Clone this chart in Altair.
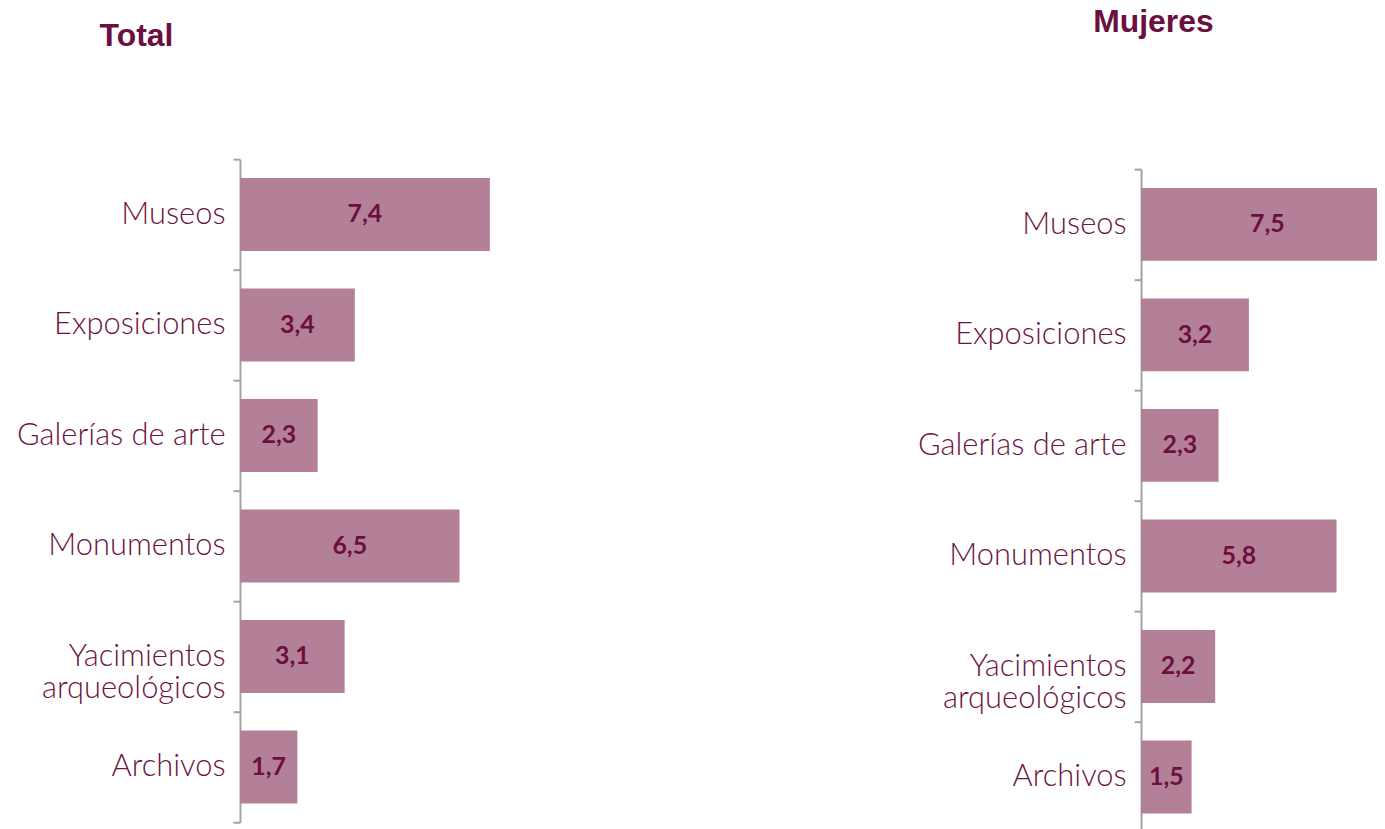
import altair as alt
import pandas as pd

categories = ["Museos", "Exposiciones", "Galerías de arte", "Monumentos",
              "Yacimientos\narqueológicos", "Archivos"]
total_values = [7.4, 3.4, 2.3, 6.5, 3.1, 1.7]
mujeres_values = [7.5, 3.2, 2.3, 5.8, 2.2, 1.5]

BAR = "#b38098"
MAROON = "#6b0f3e"
LABEL = "#6d1442"
AXIS = "#a3a3a3"
PX_PER_UNIT = 33.9
H = 666


def panel(values, title, xmax, yrange, title_offset, title_dx):
    df = pd.DataFrame({"cat": categories, "value": values})
    yscale = dict(paddingInner=0, paddingOuter=0)
    if yrange is not None:
        yscale["range"] = yrange
    base = alt.Chart(df).transform_calculate(
        half="datum.value / 2",
        lbl="replace(format(datum.value, '.1f'), '.', ',')",
    ).encode(
        y=alt.Y(
            "cat:N",
            sort=categories,
            title=None,
            scale=alt.Scale(**yscale),
            axis=alt.Axis(
                tickBand="extent",
                domainColor=AXIS,
                domainWidth=2,
                tickColor=AXIS,
                tickWidth=2,
                tickSize=7,
                labelPadding=8,
                labelFont="Lato",
                labelFontWeight=300,
                labelFontSize=31,
                labelColor=LABEL,
                labelLimit=400,
                labelLineHeight=32,
                labelExpr="split(datum.label, '\\n')",
            ),
        )
    )
    xs = alt.Scale(domain=[0, xmax], nice=False, zero=True)
    bars = base.mark_bar(color=BAR, clip=True, height={"band": 0.66}).encode(
        x=alt.X("value:Q", scale=xs, axis=None)
    )
    text = base.mark_text(
        font="Lato", fontWeight="bold", fontSize=25, color=MAROON
    ).encode(x=alt.X("half:Q", scale=xs, axis=None), text="lbl:N")
    return alt.layer(bars, text).properties(
        width=round(xmax * PX_PER_UNIT),
        height=H,
        title=alt.TitleParams(
            text=title,
            anchor="start",
            frame="group",
            dx=title_dx,
            offset=title_offset,
            font="Liberation Sans",
            fontWeight="bold",
            fontSize=32,
            color=MAROON,
        ),
    )


left_xmax = 12
right_xmax = 7.0
left = panel(total_values, "Total", left_xmax, None, 91, -141)
right = panel(mujeres_values, "Mujeres", right_xmax, [10, H + 10], 105, -48)

spacing = 905 - round(left_xmax * PX_PER_UNIT)
chart = alt.hconcat(left, right, spacing=spacing, bounds="flush").properties(
    padding={"left": 8, "top": -4, "right": 0, "bottom": 0}
).configure_view(stroke=None)

chart.save("out.html", embed_options={"renderer": "svg", "actions": False})
